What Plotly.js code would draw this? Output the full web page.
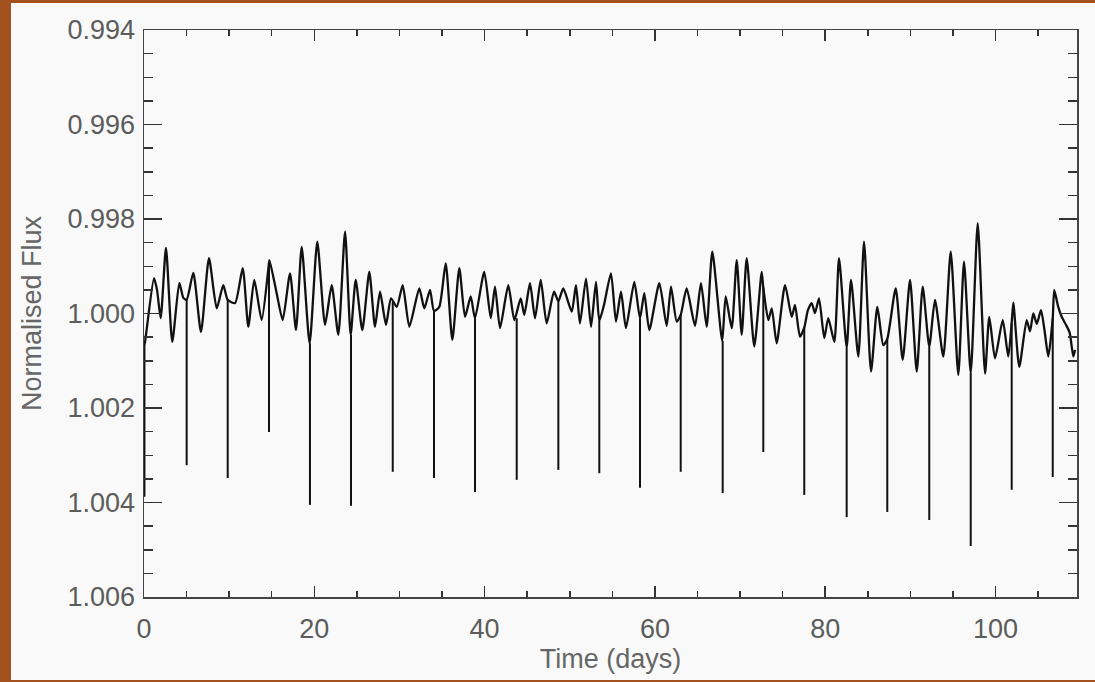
<!DOCTYPE html>
<html>
<head>
<meta charset="utf-8">
<script src="https://cdn.plot.ly/plotly-3.0.1.min.js"></script>
<style>
  html, body { margin:0; padding:0; width:1095px; height:682px; background:#a3521f; overflow:hidden; }
  #chart { position:absolute; left:11px; top:3px; width:1084px; height:677px; }
</style>
</head>
<body>
<div id="chart"></div>
<script>
// Light-curve (oscillation) readings: time in days, normalised flux
const oscTime = [0.00,0.10,1.17,1.53,1.96,2.58,3.32,4.15,4.62,5.01,5.79,6.69,7.63,8.54,9.31,9.83,10.69,11.59,12.25,12.95,13.82,14.68,14.74,15.58,16.29,17.15,17.85,18.52,19.45,20.35,21.26,22.04,22.82,23.61,24.27,24.86,25.64,26.46,27.13,27.72,28.42,29.01,29.68,30.38,31.16,32.33,32.92,33.59,34.06,34.68,35.43,36.21,37.03,37.70,38.37,38.87,39.96,40.72,41.22,41.81,42.78,43.49,44.24,44.66,45.33,45.92,46.59,47.29,48.15,48.66,49.24,50.23,50.73,51.20,51.91,52.50,53.08,53.47,54.02,54.84,55.43,56.02,56.60,57.58,58.25,58.75,59.34,60.52,61.38,61.89,62.56,63.03,63.73,64.71,65.41,66.08,66.74,67.90,68.31,69.02,69.61,70.19,70.78,71.67,72.54,72.73,73.32,73.72,74.30,75.28,76.07,76.45,77.04,77.54,77.97,78.41,78.80,79.27,79.89,80.36,81.07,81.62,82.52,83.03,83.89,84.56,85.38,86.12,86.82,87.29,88.28,89.10,89.96,90.75,91.45,92.22,92.89,93.87,94.74,95.63,96.30,97.09,97.91,98.77,99.27,99.94,100.85,101.50,101.90,102.09,102.79,103.66,104.05,104.44,104.85,105.34,105.75,106.20,106.72,106.90,107.35,107.77,108.28,108.70,109.14,109.34];
const oscFlux = [1.00067,1.00062,0.99925,0.99950,1.00010,0.99861,1.00060,0.99935,0.99967,0.99971,0.99914,1.00039,0.99883,0.99989,0.99940,0.99971,0.99978,0.99904,1.00028,0.99929,1.00014,0.99893,0.99887,0.99957,1.00014,0.99915,1.00035,0.99859,1.00063,0.99848,1.00024,0.99940,1.00045,0.99827,1.00045,0.99929,1.00035,0.99912,1.00028,0.99954,1.00024,0.99968,0.99986,0.99940,1.00028,0.99947,0.99989,0.99950,0.99995,0.99986,0.99894,1.00056,0.99904,1.00007,0.99964,1.00010,0.99912,1.00010,0.99943,1.00031,0.99940,1.00014,0.99968,1.00003,0.99936,1.00010,0.99929,1.00021,0.99954,0.99974,0.99947,0.99996,0.99940,1.00021,0.99926,1.00028,0.99933,1.00015,0.99982,0.99915,1.00017,0.99954,1.00031,0.99933,1.00010,0.99957,1.00035,0.99936,1.00026,0.99943,1.00017,1.00003,0.99947,1.00026,0.99936,1.00028,0.99869,1.00058,0.99964,1.00031,0.99887,1.00045,0.99883,1.00070,0.99912,0.99945,1.00014,0.99989,1.00063,0.99940,1.00007,0.99982,1.00049,1.00030,0.99993,0.99978,0.99999,0.99968,1.00052,1.00010,1.00060,0.99883,1.00072,0.99929,1.00091,0.99848,1.00123,0.99986,1.00067,1.00054,0.99947,1.00098,0.99929,1.00123,0.99943,1.00070,0.99971,1.00091,0.99869,1.00130,0.99890,1.00126,0.99809,1.00127,1.00007,1.00095,1.00014,1.00091,1.00020,0.99977,1.00113,1.00014,1.00038,1.00000,1.00022,0.99993,1.00035,1.00091,1.00010,0.99950,0.99985,1.00007,1.00024,1.00040,1.00091,1.00077];

// Transit readings: mid-time, flux at top of dip, flux at bottom of dip
const transitTime   = [0.05,5.01,9.83,14.68,19.49,24.31,29.21,34.06,38.87,43.77,48.66,53.47,58.25,63.03,67.96,72.73,77.54,82.52,87.29,92.22,97.09,101.90,106.72];
const transitTop    = [1.00065,0.99971,0.99971,0.99893,1.00063,1.00045,0.99976,0.99995,1.00010,1.00010,0.99974,1.00015,1.00010,1.00003,1.00058,0.99945,1.00030,1.00072,1.00054,1.00070,1.00126,1.00020,1.00010];
const transitBottom = [1.00388,1.00321,1.00348,1.00251,1.00405,1.00407,1.00335,1.00348,1.00378,1.00352,1.00331,1.00338,1.00369,1.00335,1.00380,1.00293,1.00384,1.00431,1.00420,1.00437,1.00492,1.00373,1.00346];

const yTickVals = [0.994,0.996,0.998,1.000,1.002,1.004,1.006];
const xTickVals = [0,20,40,60,80,100];

const tx = [], ty = [];
transitTime.forEach((t, i) => { tx.push(t, t, null); ty.push(transitTop[i], transitBottom[i], null); });

const traces = [
  { x: oscTime, y: oscFlux, type: 'scatter', mode: 'lines',
    line: { color: '#111111', width: 2.3, shape: 'spline', smoothing: 0.6 }, hoverinfo: 'skip' },
  { x: tx, y: ty, type: 'scatter', mode: 'lines',
    line: { color: '#111111', width: 2 }, hoverinfo: 'skip' }
];

const tickFont = { family: 'Liberation Sans, Arial, sans-serif', size: 27, color: '#5c5c5c' };
const titleFont = { family: 'Liberation Sans, Arial, sans-serif', size: 27, color: '#666666' };

const layout = {
  width: 1084, height: 677,
  paper_bgcolor: '#f9f9f9', plot_bgcolor: '#f9f9f9',
  showlegend: false,
  margin: { l: 133, r: 18, t: 27, b: 83 },
  xaxis: {
    range: [0, 109.57], autorange: false,
    tickvals: xTickVals, ticktext: xTickVals.map(String),
    ticks: 'inside', ticklen: 11, tickwidth: 1.5, tickcolor: '#333',
    minor: { dtick: 5, ticks: 'inside', ticklen: 6, tickwidth: 1.5, tickcolor: '#333' },
    showline: true, linecolor: '#444', linewidth: 1.5, mirror: 'ticks',
    showgrid: false, zeroline: false,
    tickfont: tickFont, ticklabelstandoff: 7,
    title: { text: 'Time (days)', font: titleFont, standoff: 4 }
  },
  yaxis: {
    range: [1.006, 0.994], autorange: false,
    tickvals: yTickVals, ticktext: yTickVals.map(v => v.toFixed(3)),
    ticks: 'inside', ticklen: 18, tickwidth: 1.5, tickcolor: '#333',
    minor: { dtick: 0.0005, tick0: 0.994, ticks: 'inside', ticklen: 9, tickwidth: 1.5, tickcolor: '#333' },
    showline: true, linecolor: '#444', linewidth: 1.5, mirror: 'ticks',
    showgrid: false, zeroline: false,
    tickfont: tickFont, ticklabelstandoff: 2,
    title: { text: 'Normalised Flux', font: titleFont, standoff: 18 }
  }
};

Plotly.newPlot('chart', traces, layout, { staticPlot: true, displayModeBar: false });
</script>
</body>
</html>
